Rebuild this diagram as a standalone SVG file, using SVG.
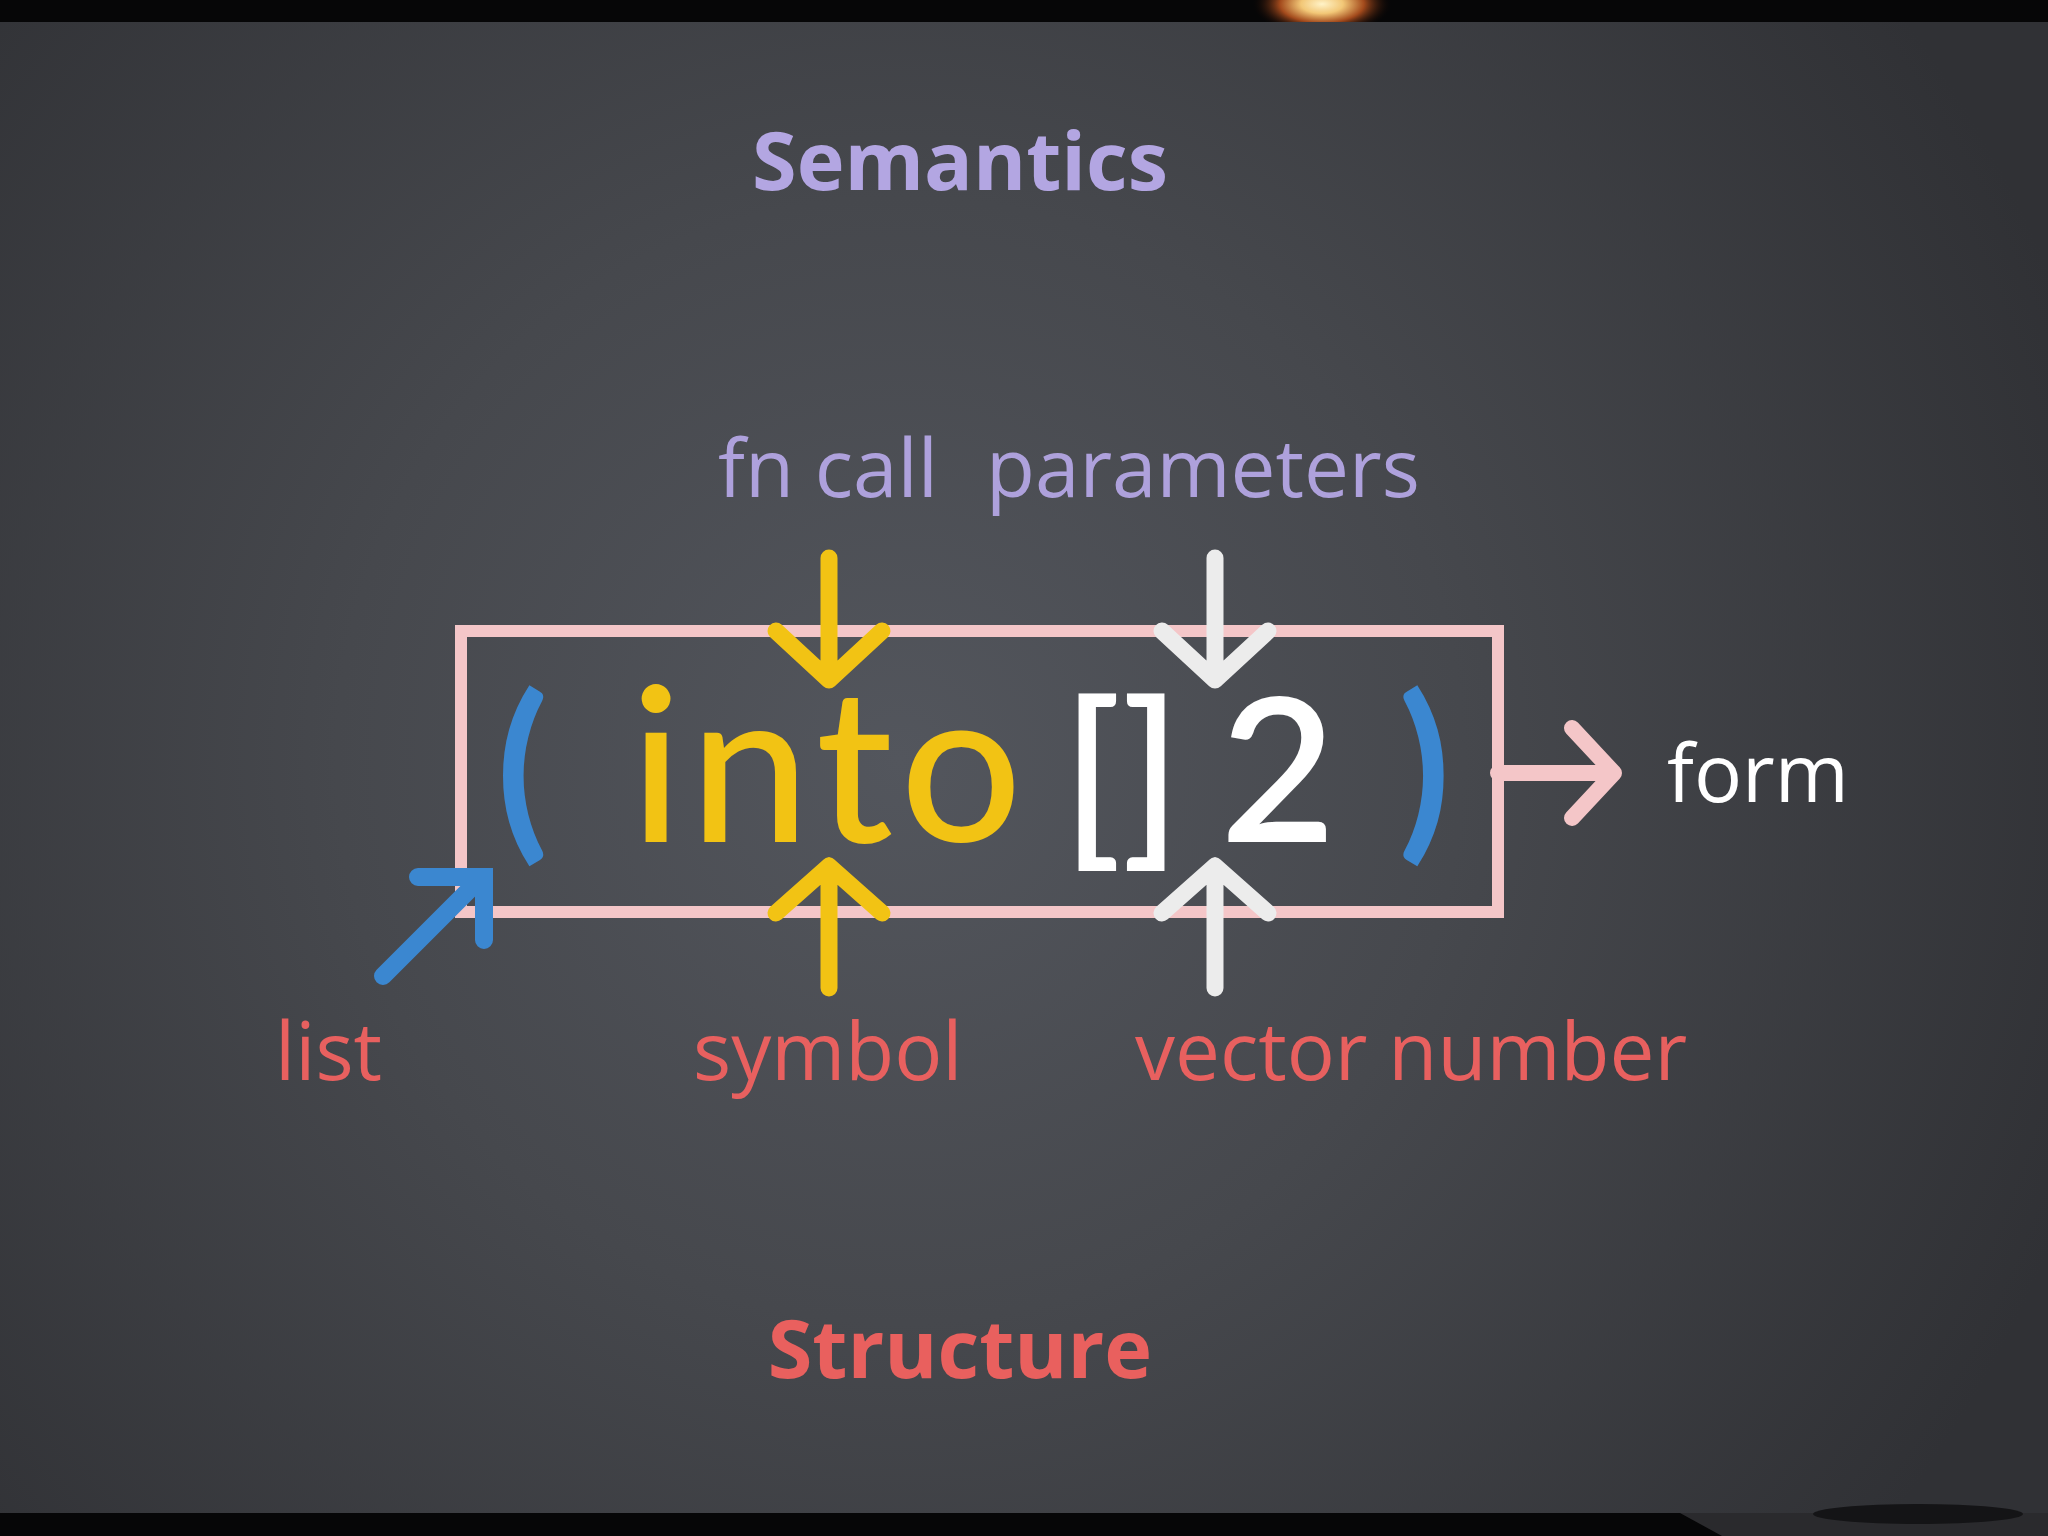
<svg xmlns="http://www.w3.org/2000/svg" width="2048" height="1536" viewBox="0 0 2048 1536">
  <defs>
    <radialGradient id="bg" cx="900" cy="760" r="1250" gradientUnits="userSpaceOnUse">
      <stop offset="0" stop-color="#53565d"/>
      <stop offset="0.45" stop-color="#46484d"/>
      <stop offset="1" stop-color="#303135"/>
    </radialGradient>
    <radialGradient id="glow" cx="1322" cy="4" r="70" gradientUnits="userSpaceOnUse" gradientTransform="translate(1322 4) scale(1 0.45) translate(-1322 -4)">
      <stop offset="0" stop-color="#fff3c8"/>
      <stop offset="0.3" stop-color="#f2c777"/>
      <stop offset="0.6" stop-color="#a34a1c"/>
      <stop offset="1" stop-color="#0a0404" stop-opacity="0"/>
    </radialGradient>
    <clipPath id="topbar"><rect x="0" y="0" width="2048" height="22"/></clipPath>
    <style>
      .lbl { font-family: "Open Sans", "Noto Sans", "DejaVu Sans", sans-serif; font-size: 80px; }
      .head { font-family: "Open Sans", "Noto Sans", "DejaVu Sans", sans-serif; font-weight: 700; font-size: 81px; text-anchor: middle; }
      .code { font-family: Lato, "Open Sans", "DejaVu Sans", sans-serif; }
      .yl { fill: none; stroke: #f2c314; stroke-width: 17; stroke-linecap: round; stroke-linejoin: round; }
      .wh { fill: none; stroke: #ececec; stroke-width: 17; stroke-linecap: round; stroke-linejoin: round; }
      .pk { fill: none; stroke: #f4c6c8; stroke-width: 16; stroke-linecap: round; stroke-linejoin: round; }
      .bl { fill: none; stroke: #3b87d0; stroke-width: 18; stroke-linecap: round; stroke-linejoin: miter; }
    </style>
  </defs>

  <!-- background -->
  <rect x="0" y="0" width="2048" height="1536" fill="#060607"/>
  <rect x="0" y="22" width="2048" height="1491" fill="url(#bg)"/>
  <g clip-path="url(#topbar)">
    <ellipse cx="1322" cy="4" rx="70" ry="32" fill="url(#glow)"/>
  </g>
  <path d="M1680 1513 L2048 1513 L2048 1536 L1722 1536 Z" fill="#2a2a2d"/>
  <ellipse cx="1918" cy="1514" rx="105" ry="10" fill="#141416"/>

  <!-- headings -->
  <g id="semantics"><text class="head" x="960" y="190" fill="#b3a6e2">Semantics</text></g>
  <g id="structure"><text class="head" x="960" y="1378" fill="#e9605e">Structure</text></g>

  <!-- form box -->
  <g id="form-box">
    <rect x="461" y="631" width="1037" height="281" fill="none" stroke="#f4c6c8" stroke-width="12"/>
  </g>

  <!-- code -->
  <g id="paren-open"><text class="code" x="496" y="836" font-size="192" font-weight="700" fill="#3b87d0">(</text></g>
  <g id="into"><text class="code" x="630" y="842" font-size="214" font-weight="500" textLength="392" lengthAdjust="spacing" fill="#f2c314">into</text></g>
  <g id="vector"><text class="code" x="1062" y="842" font-size="192" font-weight="600" fill="#ffffff">[]</text></g>
  <g id="number"><text class="code" x="1220" y="842" font-size="200" font-weight="600" fill="#ffffff">2</text></g>
  <g id="paren-close"><text class="code" x="1398" y="836" font-size="192" font-weight="700" fill="#3b87d0">)</text></g>

  <!-- labels -->
  <g id="fn-call"><text class="lbl" x="718" y="497" fill="#aea1dc">fn call</text></g>
  <g id="parameters"><text class="lbl" x="986" y="497" fill="#aea1dc">parameters</text></g>
  <g id="list"><text class="lbl" x="275" y="1080" fill="#e8605f">list</text></g>
  <g id="symbol"><text class="lbl" x="693" y="1080" fill="#e8605f">symbol</text></g>
  <g id="vector-number"><text class="lbl" x="1135" y="1080" fill="#e8605f">vector number</text></g>
  <g id="form"><text class="lbl" x="1667" y="802" fill="#ffffff">form</text></g>

  <!-- connectors -->
  <g id="connectors">
    <path class="yl" d="M829 558 L829 680 M776 631 L829 680 L882 631"/>
    <path class="yl" d="M829 988 L829 866 M776 913 L829 866 L882 913"/>
    <path class="wh" d="M1215 558 L1215 680 M1162 631 L1215 680 L1268 631"/>
    <path class="wh" d="M1215 988 L1215 866 M1162 913 L1215 866 L1268 913"/>
    <path class="pk" d="M1498 773 L1612 773 M1572 728 L1614 773 L1572 818"/>
    <path class="bl" d="M383 976 L482 877 M418 877 L484 877 L484 940"/>
  </g>
</svg>
